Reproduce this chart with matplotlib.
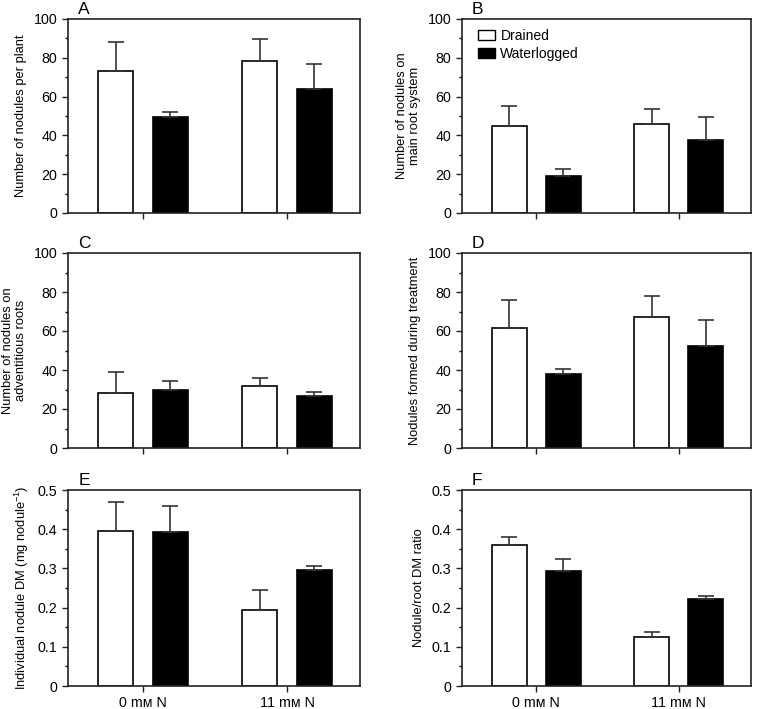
import matplotlib
matplotlib.use("Agg")
import matplotlib.pyplot as plt
import numpy as np
from matplotlib.patches import Patch

plt.rcParams['font.family'] = ['Liberation Sans', 'DejaVu Sans']
plt.rcParams['mathtext.fontset'] = 'custom'
plt.rcParams['mathtext.rm'] = 'Liberation Sans'
plt.rcParams['mathtext.it'] = 'Liberation Sans:italic'

categories = ["0 mᴍ N", "11 mᴍ N"]
series = ["Drained", "Waterlogged"]
panel_letters = ["A", "B", "C", "D", "E", "F"]
ylabels = [
    "Number of nodules per plant",
    "Number of nodules on\nmain root system",
    "Number of nodules on\nadventitious roots",
    "Nodules formed during treatment",
    r"Individual nodule DM (mg nodule$^{-1}$)",
    "Nodule/root DM ratio",
]

# means: [drained, waterlogged] per category
drained_means = [
    [73, 78.5], [45, 46], [28, 32], [61.5, 67], [0.395, 0.193], [0.36, 0.125]
]
drained_err = [
    [15, 11], [10, 7.5], [11, 4], [14.5, 11], [0.075, 0.052], [0.02, 0.012]
]
water_means = [
    [49.5, 64], [19, 37.5], [30, 26.5], [38, 52.5], [0.393, 0.295], [0.293, 0.222]
]
water_err = [
    [2.5, 13], [3.5, 12], [4.5, 2], [2.5, 13], [0.067, 0.012], [0.03, 0.008]
]
ylims = [100, 100, 100, 100, 0.5, 0.5]

W, H = 760, 709
fig = plt.figure(figsize=(W / 100, H / 100), dpi=100)

col_left = [68, 462]
col_width = [292, 289]
row_top = [19, 253, 490]
row_bot = [213, 448, 686]

err_kw = dict(ecolor='#333333', elinewidth=1.2, capsize=6, capthick=1.2)

for i in range(6):
    r, c = divmod(i, 2)
    l = col_left[c] / W
    b = 1 - row_bot[r] / H
    w = col_width[c] / W
    h = (row_bot[r] - row_top[r]) / H
    ax = fig.add_axes([l, b, w, h])
    x = np.arange(len(categories))
    off = 0.19
    bw = 0.245
    d_m = np.array(drained_means[i])
    w_m = np.array(water_means[i])
    d_e = np.array(drained_err[i])
    w_e = np.array(water_err[i])
    ax.bar(x - off, d_m, bw, color='white', edgecolor='black', linewidth=1.2,
           yerr=[np.zeros_like(d_e), d_e], error_kw=err_kw, label=series[0], zorder=2)
    ax.bar(x + off, w_m, bw, color='black', edgecolor='black', linewidth=1.2,
           yerr=[np.zeros_like(w_e), w_e], error_kw=err_kw, label=series[1], zorder=2)
    ax.set_xlim(-0.52, 1.507)
    top = ylims[i]
    ax.set_ylim(0, top)
    if top == 100:
        ax.set_yticks(np.arange(0, 101, 20))
        ax.set_yticks(np.arange(10, 100, 20), minor=True)
    else:
        ax.set_yticks(np.round(np.arange(0, 0.51, 0.1), 1))
        ax.set_yticklabels(["0", "0.1", "0.2", "0.3", "0.4", "0.5"])
        ax.set_yticks(np.arange(0.05, 0.5, 0.1), minor=True)
    ax.set_xticks(x)
    if r == 2:
        ax.set_xticklabels(categories, fontsize=10)
    else:
        ax.set_xticklabels([])
    ax.tick_params(axis='both', direction='out', length=4, width=1, colors='#222222',
                   labelsize=10.3, labelcolor='black')
    ax.tick_params(axis='y', which='minor', direction='out', length=2.5, width=1)
    ax.tick_params(axis='x', which='minor', bottom=False)
    for sp in ax.spines.values():
        sp.set_linewidth(1.2)
        sp.set_color('#222222')
    ax.set_ylabel(ylabels[i], fontsize=9.3, labelpad=5, linespacing=1.1)
    ax.text(0.035, 1.01, panel_letters[i], transform=ax.transAxes, fontsize=12.5,
            ha='left', va='bottom')
    if i == 1:
        handles = [Patch(facecolor='white', edgecolor='black', linewidth=1),
                   Patch(facecolor='black', edgecolor='black', linewidth=1)]
        ax.legend(handles, series, loc='upper left', frameon=False, fontsize=10,
                  handlelength=1.25, handleheight=0.75, handletextpad=0.4,
                  borderaxespad=0.3, labelspacing=0.3, bbox_to_anchor=(0.02, 1.0))

fig.savefig("out.png", dpi=100)
